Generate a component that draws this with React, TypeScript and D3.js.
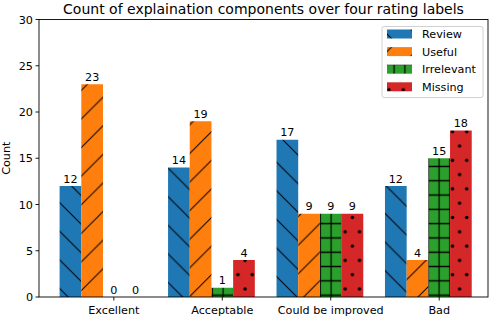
import React from 'react';
import * as d3 from 'd3';

const categories = ['Excellent', 'Acceptable', 'Could be improved', 'Bad'];
const seriesNames = ['Review', 'Useful', 'Irrelevant', 'Missing'];
const review = [12, 14, 17, 12];
const useful = [23, 19, 9, 4];
const irrelevant = [0, 1, 9, 15];
const missing = [0, 4, 9, 18];
const yTicks = [0, 5, 10, 15, 20, 25, 30];

const colors = ['#1f77b4', '#ff7f0e', '#2ca02c', '#d62728'];
const patternIds = ['hatch-back', 'hatch-fwd', 'hatch-plus', 'hatch-dot'];

const W = 490;
const H = 316;
const left = 39;
const right = 488;
const top = 19.5;
const bottom = 297;
const barW = 0.2;
const font = 'DejaVu Sans, sans-serif';
const fs = 11.2;

export default function App() {
  const series = [review, useful, irrelevant, missing];

  const x = d3.scaleLinear().domain([-0.69, 3.45]).range([left, right]);
  const y = d3.scaleLinear().domain([0, 30]).range([bottom, top]);
  const bw = x(barW) - x(0);

  const d = 28.6; // diagonal hatch period
  const g = 14.3; // grid hatch period

  return (
    <svg width={W} height={H} style={{ position: 'absolute', left: 0, top: 0 }}>
      <defs>
        <pattern id="hatch-back" patternUnits="userSpaceOnUse" width={d} height={d}>
          <rect width={d} height={d} fill={colors[0]} />
          <path d={`M0,0L${d},${d}M${-d},0L${d},${2 * d}M0,${-d}L${2 * d},${d}`} stroke="#000" strokeWidth={1} />
        </pattern>
        <pattern id="hatch-fwd" patternUnits="userSpaceOnUse" width={d} height={d}>
          <rect width={d} height={d} fill={colors[1]} />
          <path d={`M0,${d}L${d},0M${-d},${d}L${d},${-d}M0,${2 * d}L${2 * d},0`} stroke="#000" strokeWidth={1} />
        </pattern>
        <pattern id="hatch-plus" patternUnits="userSpaceOnUse" width={10.8} height={g} x={1.7} y={2}>
          <rect width={10.8} height={g} fill={colors[2]} />
          <path d={`M5.4,0V${g}M0,${g / 2}H10.8`} stroke="#000" strokeWidth={1.2} />
        </pattern>
        <pattern id="hatch-dot" patternUnits="userSpaceOnUse" width={g} height={2 * g} x={2} y={3}>
          <rect width={g} height={2 * g} fill={colors[3]} />
          <circle cx={0} cy={0} r={1.8} fill="#000" />
          <circle cx={g} cy={0} r={1.8} fill="#000" />
          <circle cx={0} cy={2 * g} r={1.8} fill="#000" />
          <circle cx={g} cy={2 * g} r={1.8} fill="#000" />
          <circle cx={g / 2} cy={g} r={1.8} fill="#000" />
        </pattern>
      </defs>

      {/* bars */}
      {series.map((vals, s) =>
        vals.map((v, i) => {
          const cx = x(i + (s - 2) * barW);
          return (
            <g key={`${s}-${i}`}>
              {v > 0 && (
                <rect
                  x={cx - bw / 2}
                  y={y(v)}
                  width={bw}
                  height={y(0) - y(v)}
                  fill={`url(#${patternIds[s]})`}
                />
              )}
              <text
                x={cx}
                y={y(v) - 3.5}
                textAnchor="middle"
                fontFamily={font}
                fontSize={fs}
                fill="#000"
              >
                {v}
              </text>
            </g>
          );
        })
      )}

      {/* frame */}
      <rect x={left} y={top} width={right - left} height={bottom - top} fill="none" stroke="#000" strokeWidth={0.9} />

      {/* y axis */}
      {yTicks.map((t) => (
        <g key={t}>
          <line x1={left - 3.5} x2={left} y1={y(t)} y2={y(t)} stroke="#000" strokeWidth={0.9} />
          <text x={left - 6} y={y(t) + 4} textAnchor="end" fontFamily={font} fontSize={fs}>
            {t}
          </text>
        </g>
      ))}
      <text
        transform={`translate(9.5,${(top + bottom) / 2}) rotate(-90)`}
        textAnchor="middle"
        fontFamily={font}
        fontSize={fs}
      >
        Count
      </text>

      {/* x axis */}
      {categories.map((c, i) => (
        <g key={c}>
          <line x1={x(i)} x2={x(i)} y1={bottom} y2={bottom + 3.5} stroke="#000" strokeWidth={0.9} />
          <text x={x(i)} y={bottom + 16.5} textAnchor="middle" fontFamily={font} fontSize={fs}>
            {c}
          </text>
        </g>
      ))}

      {/* title */}
      <text x={(left + right) / 2} y={13.8} textAnchor="middle" fontFamily={font} fontSize={14}>
        Count of explaination components over four rating labels
      </text>

      {/* legend */}
      <rect x={382} y={26.5} width={101} height={71} rx={2} fill="#fff" fillOpacity={0.8} stroke="#ccc" strokeWidth={0.9} />
      {seriesNames.map((n, s) => (
        <g key={n} transform={`translate(387,${34 + s * 17.6})`}>
          <rect x={0} y={-4.5} width={25} height={9} fill={`url(#${patternIds[s]})`} />
          <text x={35} y={4} fontFamily={font} fontSize={fs}>
            {n}
          </text>
        </g>
      ))}
    </svg>
  );
}
